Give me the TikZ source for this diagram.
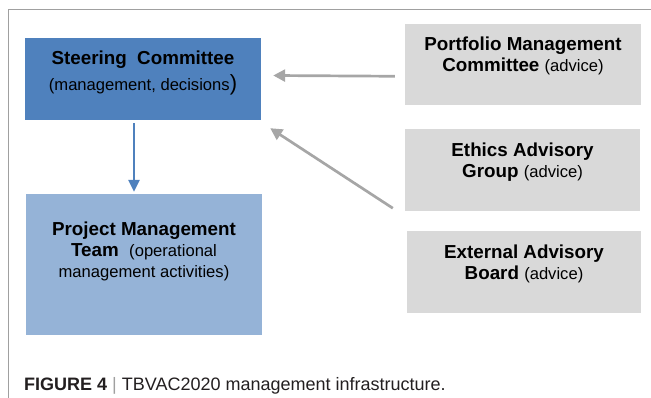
\documentclass[tikz,border=0pt]{standalone}
\usepackage{fontspec}
\setmainfont{Liberation Sans}
\usetikzlibrary{arrows.meta}
\definecolor{steerblue}{HTML}{4F81BD}
\definecolor{teamblue}{HTML}{95B3D7}
\definecolor{advgray}{HTML}{D9D9D9}
\definecolor{arrowgray}{HTML}{A6A6A6}
\definecolor{framegray}{HTML}{A0A0A0}
\definecolor{captext}{HTML}{231F20}
\newcommand{\lighttxt}[1]{{\fontsize{16.6}{21}\selectfont\mdseries #1}}

\begin{document}
\begin{tikzpicture}[x=1pt,y=-1pt,
  box/.style={rectangle, inner sep=0pt, minimum width=236pt, minimum height=82pt},
  boxtext/.style={anchor=north, inner sep=0pt, align=center, font=\fontsize{18.8}{21}\selectfont\bfseries},
  advice/.style={draw=arrowgray, line width=2.7pt, -{Triangle[length=12pt,width=12pt]}},
  order/.style={draw=steerblue, line width=2.8pt, -{Triangle[length=12pt,width=11pt]}}]
\useasboundingbox (0,0) rectangle (651,398);
\draw[framegray, line width=1pt] (8,398) -- (8,9.5) -- (651,9.5);

\node[box, fill=steerblue] (steer) at (143,79) {};
\node[box, fill=teamblue, minimum height=141pt] (team) at (144,264.5) {};
\node[box, fill=advgray, minimum height=81.5pt] (port) at (523,64.75) {};
\node[box, fill=advgray, minimum width=235pt] (ethics) at (522.5,170) {};
\node[box, fill=advgray, minimum width=234pt] (ext) at (524,272) {};

\node[boxtext] (steertxt) at ([shift={(0,12.5)}]steer.north)
  {Steering~ Committee\\[5pt]\lighttxt{(management, decisions}{\fontsize{22}{21}\selectfont\mdseries)}};
\node[boxtext] (teamtxt) at ([shift={(0,28.2)}]team.north)
  {Project Management\\Team~ \lighttxt{(operational}\\\lighttxt{management activities)}};
\node[boxtext] (porttxt) at ([shift={(0,13.2)}]port.north)
  {Portfolio Management\\Committee \lighttxt{(advice)}};
\node[boxtext] (ethicstxt) at ([shift={(0,14)}]ethics.north)
  {Ethics Advisory\\Group \lighttxt{(advice)}};
\node[boxtext] (exttxt) at ([shift={(0,13.5)}]ext.north)
  {External Advisory\\Board \lighttxt{(advice)}};

\draw[order] ([shift={(-9,3)}]steer.south) -- ([shift={(-10,-2)}]team.north);
\draw[advice] ([shift={(-10,11.5)}]port.west) -- ([shift={(12,-3.5)}]steer.east);
\draw[advice] ([shift={(-12,-3)}]ethics.south west) -- ([shift={(9,8)}]steer.south east);

\node[anchor=base west, inner sep=0pt, text=captext, font=\fontsize{18}{20}\selectfont] (caption) at (24,390)
  {\textbf{FIGURE 4} {\color{framegray}|} TBVAC2020 management infrastructure.};
\end{tikzpicture}
\end{document}
